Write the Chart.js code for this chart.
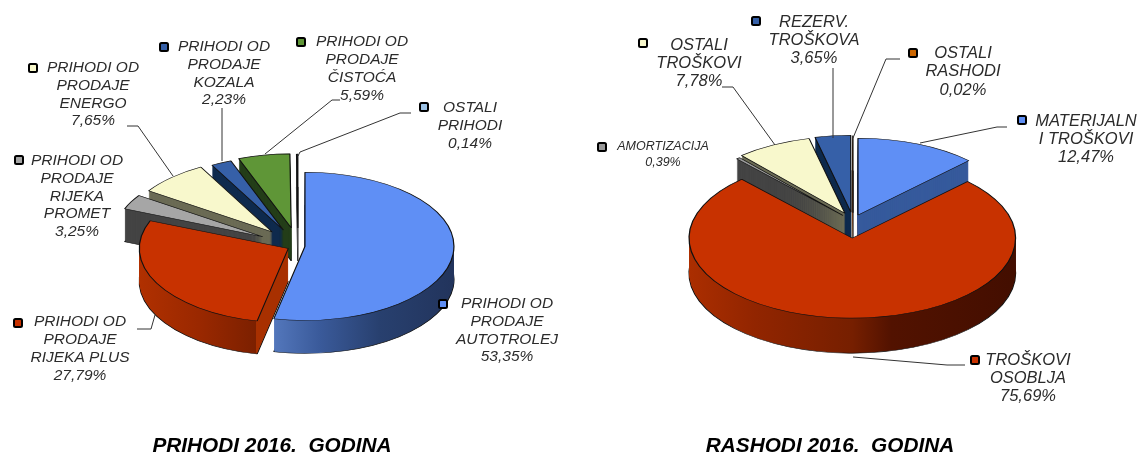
<!DOCTYPE html>
<html>
<head>
<meta charset="utf-8">
<title>Prihodi i rashodi 2016</title>
<script src="https://cdn.jsdelivr.net/npm/chart.js@4/dist/chart.umd.js"></script>
<style>
    html, body { margin: 0; padding: 0; background: #fff; }
    canvas { position: absolute; top: 0; filter: blur(0.45px); }
    #prihodiChart { left: 0; }
    #rashodiChart { left: 570px; }
</style>
</head>
<body>
<canvas id="prihodiChart" width="570" height="454"></canvas>
<canvas id="rashodiChart" width="570" height="454"></canvas>
<script>
// Podaci
const prihodiNames = [
    ['PRIHODI OD', 'PRODAJE', 'AUTOTROLEJ'],
    ['PRIHODI OD', 'PRODAJE', 'RIJEKA PLUS'],
    ['PRIHODI OD', 'PRODAJE', 'RIJEKA', 'PROMET'],
    ['PRIHODI OD', 'PRODAJE', 'ENERGO'],
    ['PRIHODI OD', 'PRODAJE', 'KOZALA'],
    ['PRIHODI OD', 'PRODAJE', 'ČISTOĆA'],
    ['OSTALI', 'PRIHODI']
];
const prihodiValues = [53.35, 27.79, 3.25, 7.65, 2.23, 5.59, 0.14];

const rashodiNames = [
    ['MATERIJALN', 'I TROŠKOVI'],
    ['TROŠKOVI', 'OSOBLJA'],
    ['AMORTIZACIJA'],
    ['OSTALI', 'TROŠKOVI'],
    ['REZERV.', 'TROŠKOVA'],
    ['OSTALI', 'RASHODI']
];
const rashodiValues = [12.47, 75.69, 0.39, 7.78, 3.65, 0.02];

// Boje
const prihodiTop = ['#5f8ff5', '#c83200', '#a6a6a6', '#f8f8cc', '#3660a8', '#5f9637', '#9dc3e6'];
const prihodiSide = [
    [[0, '#5478bd'], [0.39, '#5478bd'], [0.55, '#3a5a9a'], [0.75, '#28406f'], [1, '#22345c']],
    [[0, '#b03000'], [0.2, '#9a2800'], [0.39, '#7c2000'], [0.392, '#a83000'], [1, '#a83000']],
    '#444444', '#6b6b55', '#0e2a4d', '#233d18', '#555555'
];
const rashodiTop = ['#5f8ff5', '#c83200', '#999999', '#f8f8cc', '#3660a8', '#cc6600'];
const rashodiSide = [
    '#365a9c',
    [[0, '#ab2e00'], [0.2, '#922500'], [0.5, '#761f00'], [0.62, '#521200'], [1, '#430e00']],
    '#444444', '#6b6b55', '#0e2a4d', '#7a3c00'
];

// Raspored naljepnica: sredina teksta, y prvog retka, kvadratić, linija
const prihodiLayout = [
    { x: 507, y: 304, key: [443, 304], size: 15.5, gap: 17.7 },
    { x: 80, y: 322, key: [18, 323], size: 15.5, gap: 18, line: [[137, 329], [151, 329], [155, 315]] },
    { x: 77, y: 161, key: [19, 160], size: 15.5, gap: 17.7 },
    { x: 93, y: 68, key: [33, 68], size: 15.5, gap: 17.7, line: [[127, 126], [138, 126], [173, 176]] },
    { x: 224, y: 47, key: [164, 47], size: 15.5, gap: 17.7, line: [[222, 108], [222, 161]] },
    { x: 362, y: 42, key: [301, 42], size: 15.5, gap: 18, line: [[340, 100], [332, 100], [265, 154]] },
    { x: 470, y: 108, key: [424, 107], size: 15.5, gap: 17.7, line: [[411, 113], [400, 113], [300, 152], [298, 156]] }
];
const rashodiLayout = [
    { x: 1086, y: 121, key: [1022, 120], size: 16.5, gap: 18.3, line: [[1007, 127], [997, 127], [920, 143]] },
    { x: 1028, y: 360, key: [975, 360], size: 16.5, gap: 18, line: [[965, 365], [947, 365], [853, 357]] },
    { x: 663, y: 147, key: [602, 147], size: 12.5, gap: 16 },
    { x: 699, y: 45, key: [643, 43], size: 16.5, gap: 18, line: [[722, 87], [733, 87], [775, 145]] },
    { x: 814, y: 22, key: [756, 21], size: 16.5, gap: 18, line: [[833, 68], [833, 138]] },
    { x: 963, y: 53, key: [913, 53], size: 16.5, gap: 18.5, line: [[900, 59], [886, 59], [853, 138]] }
];

// Pseudo 3D: spljošti krug, izvuče kriške i nacrta bočne stijenke
function pie3d(cfg) {
    function place(ctx, arc, i, lift) {
        const mid = (arc.startAngle + arc.endAngle) / 2;
        const s = cfg.grow[i];
        ctx.translate(arc.x, arc.y + lift);
        ctx.scale(1, cfg.squash);
        ctx.translate(Math.cos(mid) * cfg.explode[i], Math.sin(mid) * cfg.explode[i]);
        ctx.scale(s, s);
        ctx.translate(-arc.x, -arc.y);
    }

    function sideFill(ctx, arc, i) {
        const side = cfg.side[i];
        if (typeof side === 'string') return side;
        const g = ctx.createLinearGradient(arc.x - arc.outerRadius, 0, arc.x + arc.outerRadius, 0);
        side.forEach(function(stop) { g.addColorStop(stop[0], stop[1]); });
        return g;
    }

    function drawWith(ctx, arc, opts) {
        const saved = arc.options;
        arc.options = Object.assign({}, saved, opts);
        arc.draw(ctx);
        arc.options = saved;
    }

    return {
        id: 'pie3d',
        beforeDatasetsDraw(chart) {
            const ctx = chart.ctx;
            const arcs = chart.getDatasetMeta(0).data;
            cfg.order.forEach(function(i) {
                const arc = arcs[i];
                const fill = sideFill(ctx, arc, i);
                for (let d = cfg.depth; d >= 1; d--) {
                    ctx.save();
                    place(ctx, arc, i, d);
                    drawWith(ctx, arc, d === cfg.depth
                        ? { backgroundColor: fill, borderColor: '#111', borderWidth: 1.2 }
                        : { backgroundColor: fill, borderColor: fill, borderWidth: 0 });
                    ctx.restore();
                }
                ctx.save();
                place(ctx, arc, i, 0);
                arc.draw(ctx);
                ctx.restore();
            });
            return false;
        },
        afterDraw(chart) {
            const ctx = chart.ctx;
            ctx.save();
            ctx.translate(-cfg.originX, 0);
            ctx.textAlign = 'center';
            ctx.textBaseline = 'middle';
            cfg.layout.forEach(function(l, i) {
                if (l.line) {
                    ctx.strokeStyle = '#333';
                    ctx.lineWidth = 1;
                    ctx.beginPath();
                    l.line.forEach(function(p, k) {
                        if (k === 0) ctx.moveTo(p[0], p[1]); else ctx.lineTo(p[0], p[1]);
                    });
                    ctx.stroke();
                }
                ctx.fillStyle = cfg.top[i];
                ctx.strokeStyle = '#000';
                ctx.lineWidth = 2;
                ctx.beginPath();
                ctx.roundRect(l.key[0] - 4, l.key[1] - 4, 8, 8, 1.5);
                ctx.fill();
                ctx.stroke();

                const pct = cfg.values[i].toFixed(2).replace('.', ',') + '%';
                ctx.fillStyle = '#2b2b2b';
                ctx.font = 'italic ' + l.size + 'px "Liberation Sans"';
                cfg.names[i].concat(pct).forEach(function(text, k) {
                    ctx.fillText(text, l.x, l.y + k * l.gap);
                });
            });
            ctx.fillStyle = '#000';
            ctx.font = 'italic bold 20.8px "Liberation Sans"';
            ctx.fillText(cfg.title, cfg.titleX, 446);
            ctx.restore();
        }
    };
}

function makeChart(id, names, values, top, radius, padding, plugin) {
    return new Chart(document.getElementById(id).getContext('2d'), {
        type: 'pie',
        data: {
            labels: names.map(function(n) { return n.join(' '); }),
            datasets: [{
                data: values,
                backgroundColor: top,
                borderColor: '#111',
                borderWidth: 1.2
            }]
        },
        options: {
            responsive: false,
            animation: false,
            radius: radius,
            layout: { padding: padding },
            plugins: { legend: { display: false }, tooltip: { enabled: false } }
        },
        plugins: [plugin]
    });
}

makeChart('prihodiChart', prihodiNames, prihodiValues, prihodiTop, 149, { left: 26, top: 38 }, pie3d({
    names: prihodiNames, values: prihodiValues, top: prihodiTop, side: prihodiSide, layout: prihodiLayout,
    title: 'PRIHODI 2016.  GODINA', titleX: 272, originX: 0,
    squash: 0.497, depth: 33,
    explode: [7, 11, 40, 38, 35, 37, 36],
    grow: [1, 1, 1, 1, 1, 1, 1],
    order: [6, 5, 4, 3, 2, 1, 0]
}));

makeChart('rashodiChart', rashodiNames, rashodiValues, rashodiTop, 157, { right: 4, bottom: 12 }, pie3d({
    names: rashodiNames, values: rashodiValues, top: rashodiTop, side: rashodiSide, layout: rashodiLayout,
    title: 'RASHODI 2016.  GODINA', titleX: 830, originX: 570,
    squash: 0.49, depth: 35,
    explode: [13, 35, 15, 17.5, 18, 17],
    grow: [1, 1.04, 1, 1, 1, 1],
    order: [5, 4, 3, 2, 0, 1]
}));
</script>
</body>
</html>
